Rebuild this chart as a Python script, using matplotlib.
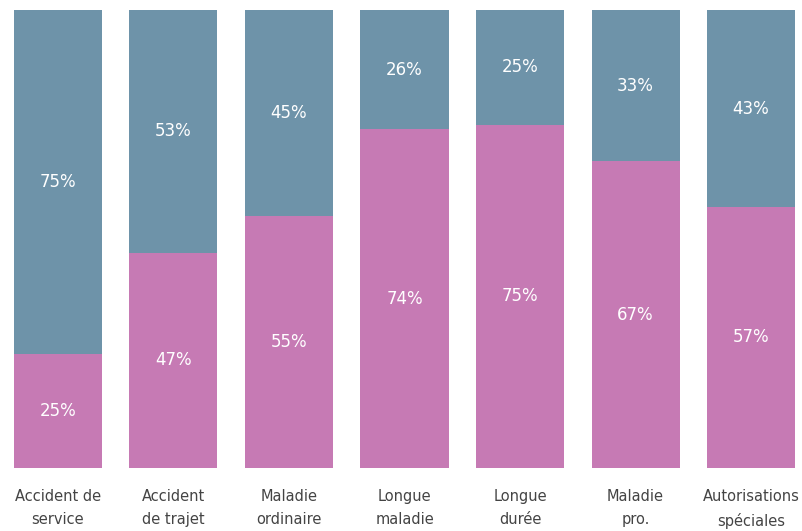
import matplotlib
matplotlib.use("Agg")
import matplotlib.pyplot as plt
import numpy as np

categories = ["Accident de\nservice", "Accident\nde trajet", "Maladie\nordinaire",
              "Longue\nmaladie", "Longue\ndurée", "Maladie\npro.", "Autorisations\nspéciales"]
pink_vals = [25, 47, 55, 74, 75, 67, 57]
blue_vals = [75, 53, 45, 26, 25, 33, 43]

pink = "#C67AB4"
blue = "#6E93A9"

fig = plt.figure(figsize=(8.03, 5.31), dpi=100)
ax = fig.add_axes([0, 0.1186, 1, 0.8625])
x = np.arange(len(categories))
w = 0.762
ax.bar(x, pink_vals, width=w, color=pink)
ax.bar(x, blue_vals, width=w, bottom=pink_vals, color=blue)

for xi, p, b in zip(x, pink_vals, blue_vals):
    ax.text(xi, p / 2, f"{p}%", ha="center", va="center", color="white", fontsize=12)
    ax.text(xi, p + b / 2, f"{b}%", ha="center", va="center", color="white", fontsize=12)

ax.set_xlim(-0.502, 6.45)
ax.set_ylim(0, 100)
ax.set_xticks(x)
ax.set_xticklabels(categories, fontsize=10.5, color="#444444", linespacing=1.7)
ax.tick_params(axis="x", length=0, pad=15)
ax.set_yticks([])
for s in ax.spines.values():
    s.set_visible(False)

fig.savefig("out.png", dpi=100, facecolor="white")
